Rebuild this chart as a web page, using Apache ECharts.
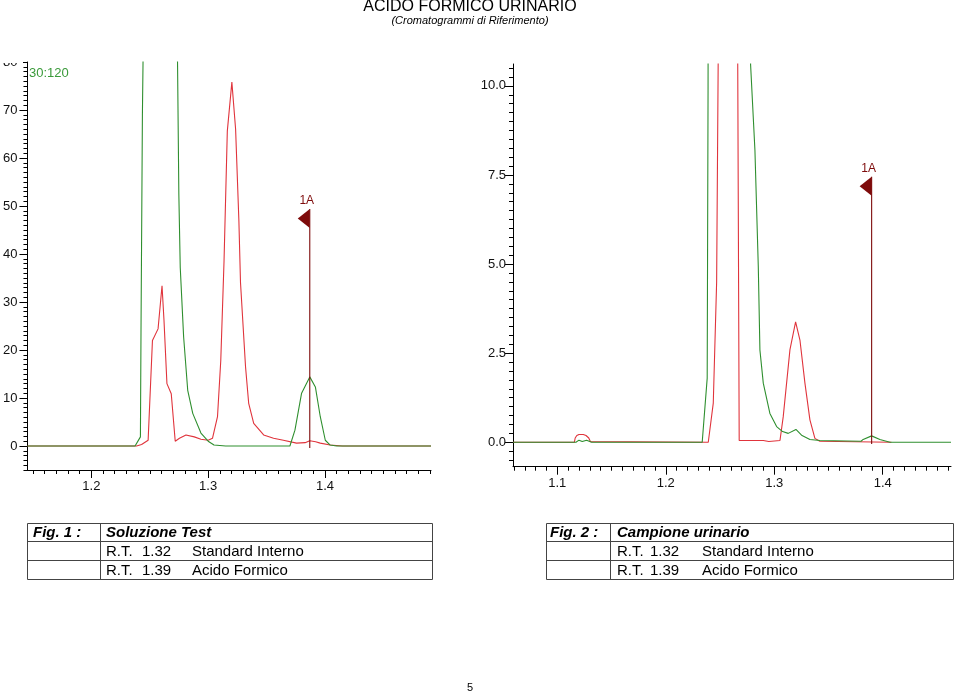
<!DOCTYPE html>
<html><head><meta charset="utf-8">
<script src="https://cdn.jsdelivr.net/npm/echarts@6/dist/echarts.min.js"></script>
<style>html,body{margin:0;padding:0;background:#fff}#c{width:960px;height:694px}</style>
</head><body><div id="c"></div>
<script>
// ---- data (retention time [min], signal) ----
const fig1Green = [[1.1453,0],[1.2374,0],[1.2420,1.9],[1.2425,24],[1.2437,69],[1.2452,100],[1.2500,220],[1.2580,260],[1.2660,220],[1.2720,110],[1.2738,79.4],[1.2749,52.4],[1.2761,37.2],[1.2790,22.7],[1.2825,11.6],[1.2868,6.8],[1.2938,2.7],[1.3000,1.0],[1.3050,0.2],[1.3150,0],[1.3700,0],[1.3743,3.3],[1.3800,11],[1.3870,14.4],[1.3918,12.3],[1.3960,6.1],[1.4003,1.2],[1.4045,0.2],[1.4100,0],[1.4908,0]];
const fig1Red = [[1.1453,0],[1.2387,0],[1.2430,0.3],[1.2486,1.2],[1.2523,22],[1.2571,24.4],[1.2605,33.4],[1.2622,26.1],[1.2647,13],[1.2684,10.9],[1.2718,1.0],[1.2754,1.6],[1.2810,2.3],[1.2881,1.9],[1.2938,1.4],[1.3000,1.2],[1.3037,1.6],[1.3080,6.1],[1.3108,17.8],[1.3136,38.6],[1.3164,65.6],[1.3203,75.8],[1.3235,66],[1.3263,47],[1.3277,34],[1.3320,16.5],[1.3347,8.9],[1.3390,4.7],[1.3475,2.3],[1.3560,1.6],[1.3644,1.2],[1.3757,0.6],[1.3830,0.7],[1.3870,1.1],[1.3920,0.9],[1.3960,0.6],[1.4045,0.2],[1.4150,0],[1.4908,0]];
const fig2Green = [[1.0592,0],[1.1172,0],[1.1200,0.06],[1.1230,0.02],[1.1270,0.06],[1.1317,0],[1.2336,0],[1.2382,1.8],[1.2390,10],[1.2400,40],[1.2500,80],[1.2650,80],[1.2770,40],[1.2782,10.6],[1.2822,8.2],[1.2853,4.93],[1.2868,2.59],[1.2899,1.66],[1.2960,0.81],[1.3022,0.44],[1.3077,0.3],[1.3129,0.25],[1.3200,0.36],[1.3252,0.2],[1.3329,0.08],[1.3421,0.05],[1.3800,0.03],[1.3820,0.08],[1.3898,0.18],[1.3974,0.08],[1.4067,0],[1.4630,0]];
const fig2Red = [[1.0592,0],[1.1157,0],[1.1165,0.12],[1.1180,0.19],[1.1200,0.22],[1.1240,0.22],[1.1265,0.19],[1.1290,0.12],[1.1305,0.02],[1.1320,0],[1.2392,0],[1.2438,1.1],[1.2469,4.5],[1.2484,11],[1.2500,40],[1.2600,60],[1.2655,40],[1.2663,11],[1.2677,0.05],[1.2900,0.05],[1.2950,0.02],[1.3053,0.05],[1.3083,0.72],[1.3145,2.6],[1.3197,3.38],[1.3237,2.87],[1.3283,1.66],[1.3329,0.63],[1.3375,0.11],[1.3420,0.03],[1.4080,0.0]];
const fig1Marker = [1.387, 49.4, -0.4];   // x, top, bottom
const fig2Marker = [1.3898, 7.45, -0.05];
const markerLabel = '1A';
const fig1XTicks = [1.2, 1.3, 1.4];
const fig1YTicks = [0, 10, 20, 30, 40, 50, 60, 70, 80];
const fig2XTicks = [1.1, 1.2, 1.3, 1.4];
const fig2YTicks = [0, 2.5, 5, 7.5, 10];
const titleText = 'ACIDO FORMICO URINARIO';
const subtitleText = '(Cromatogrammi di Riferimento)';
const scaleNote = '30:120';
const table1 = [['Fig. 1 :', 'Soluzione Test'], ['', 'R.T.', '1.32', 'Standard Interno'], ['', 'R.T.', '1.39', 'Acido Formico']];
const table2 = [['Fig. 2 :', 'Campione urinario'], ['', 'R.T.', '1.32', 'Standard Interno'], ['', 'R.T.', '1.39', 'Acido Formico']];
const pageNumber = '5';

// ---- helpers ----
function range(a, b, s) { const out = []; for (let i = 0; a + i * s <= b + 1e-9; i++) out.push(+(a + i * s).toFixed(4)); return out; }
const fig1XMinor = range(1.15, 1.49, 0.01);
const fig1YMinor = range(-5, 80, 1);
const fig2XMinor = range(1.06, 1.46, 0.01);
const fig2YMinor = range(-0.5, 10.5, 0.25);

const GREEN = '#2f8f2f', RED = '#e0343c', MARK = '#7e0b0b';
const ARIAL = "'Liberation Sans',Arial,sans-serif";

const grids = [
  { left: 25, top: 62, width: 406, height: 408 },
  { left: 513, top: 64, width: 438, height: 402.7 }
];
const xr = [[1.14528, 1.4908], [1.05916, 1.46297]];
const yr = [[-5, 80], [-0.685, 10.615]];
const xMaj = [fig1XTicks, fig2XTicks], xMin = [fig1XMinor, fig2XMinor];
const yMaj = [fig1YTicks, fig2YTicks], yMin = [fig1YMinor, fig2YMinor];

const xAxes = [], yAxes = [];
for (let g = 0; g < 2; g++) {
  xAxes.push({
    type: 'value', gridIndex: g, min: xr[g][0], max: xr[g][1], position: 'bottom',
    axisLine: { onZero: false, lineStyle: { color: '#000', width: 1 } },
    axisTick: { customValues: xMaj[g], length: 8, lineStyle: { color: '#000' } },
    axisLabel: { customValues: xMaj[g], formatter: v => v.toFixed(1), margin: 10, color: '#111', fontFamily: ARIAL, fontSize: 13 },
    splitLine: { show: false }
  });
  xAxes.push({
    type: 'value', gridIndex: g, min: xr[g][0], max: xr[g][1], position: 'bottom',
    axisLine: { show: false, onZero: false },
    axisTick: { customValues: xMin[g], length: 4, lineStyle: { color: '#000' } },
    axisLabel: { show: false }, splitLine: { show: false }
  });
  yAxes.push({
    type: 'value', gridIndex: g, min: yr[g][0], max: yr[g][1], position: 'left',
    axisLine: { onZero: false, lineStyle: { color: '#000', width: 1 } },
    axisTick: { customValues: yMaj[g], length: 8, lineStyle: { color: '#000' } },
    axisLabel: { customValues: yMaj[g], formatter: v => g === 0 ? String(v) : v.toFixed(1), margin: g === 0 ? 10 : 7, color: '#111', fontFamily: ARIAL, fontSize: 13 },
    splitLine: { show: false }
  });
  yAxes.push({
    type: 'value', gridIndex: g, min: yr[g][0], max: yr[g][1], position: 'left',
    axisLine: { show: false, onZero: false },
    axisTick: { customValues: yMin[g], length: 4, lineStyle: { color: '#000' } },
    axisLabel: { show: false }, splitLine: { show: false }
  });
}

function trace(data, g, color) {
  return { type: 'line', data, xAxisIndex: g * 2, yAxisIndex: g * 2, showSymbol: false, symbol: 'none',
    lineStyle: { color, width: 1.1 }, clip: true, silent: true, animation: false, z: 3 };
}
function marker(m, g) {
  return [
    { type: 'line', data: [[m[0], m[2]], [m[0], m[1]]], xAxisIndex: g * 2, yAxisIndex: g * 2, symbol: 'none',
      lineStyle: { color: MARK, width: 1.1 }, animation: false, z: 4, silent: true },
    { type: 'scatter', data: [[m[0], m[1]]], xAxisIndex: g * 2, yAxisIndex: g * 2,
      symbol: 'path://M12,0 L0,9.5 L12,19 Z', symbolSize: [12, 19], symbolOffset: [-6, 9.5],
      itemStyle: { color: MARK, opacity: 1 }, animation: false, z: 5, silent: true,
      label: { show: true, formatter: markerLabel, position: 'top', distance: 2, offset: [3, 0], color: MARK, fontFamily: ARIAL, fontSize: 12 } }
  ];
}

const series = [
  trace(fig1Red, 0, RED), trace(fig1Green, 0, GREEN),
  trace(fig2Red, 1, RED), trace(fig2Green, 1, GREEN),
  ...marker(fig1Marker, 0), ...marker(fig2Marker, 1)
];

// tables
function tableGraphics(rows, x0, x1, xc, xCols) {
  const ys = [523.5, 541.5, 560.5, 579.5];
  const els = [];
  const ls = { stroke: '#444', lineWidth: 1 };
  els.push({ type: 'rect', shape: { x: x0, y: ys[0], width: x1 - x0, height: ys[3] - ys[0] }, style: { fill: 'none', stroke: '#444', lineWidth: 1 } });
  els.push({ type: 'line', shape: { x1: x0, y1: ys[1], x2: x1, y2: ys[1] }, style: ls });
  els.push({ type: 'line', shape: { x1: x0, y1: ys[2], x2: x1, y2: ys[2] }, style: ls });
  els.push({ type: 'line', shape: { x1: xc, y1: ys[0], x2: xc, y2: ys[3] }, style: ls });
  rows.forEach((r, i) => {
    const yc = (ys[i] + ys[i + 1]) / 2 + 0.5;
    if (i === 0) {
      els.push({ type: 'text', style: { text: r[0], x: xCols[0], y: yc, font: 'italic bold 15px ' + ARIAL, fill: '#000', textVerticalAlign: 'middle' } });
      els.push({ type: 'text', style: { text: r[1], x: xCols[1], y: yc, font: 'italic bold 15px ' + ARIAL, fill: '#000', textVerticalAlign: 'middle' } });
    } else {
      els.push({ type: 'text', style: { text: r[1], x: xCols[1], y: yc, font: '15px ' + ARIAL, fill: '#000', textVerticalAlign: 'middle' } });
      els.push({ type: 'text', style: { text: r[2], x: xCols[2], y: yc, font: '15px ' + ARIAL, fill: '#000', textVerticalAlign: 'middle' } });
      els.push({ type: 'text', style: { text: r[3], x: xCols[3], y: yc, font: '15px ' + ARIAL, fill: '#000', textVerticalAlign: 'middle' } });
    }
  });
  return els;
}

const graphic = [
  { type: 'rect', z: 100, shape: { x: 0, y: 40, width: 23, height: 23 }, style: { fill: '#fff' } },
  { type: 'text', z: 100, style: { text: scaleNote, x: 29, y: 73, font: '13px ' + ARIAL, fill: '#3a9a3a', textVerticalAlign: 'middle' } },
  { type: 'text', z: 100, style: { text: titleText, x: 470, y: 7, font: '16px ' + ARIAL, fill: '#000', textAlign: 'center', textVerticalAlign: 'middle' } },
  { type: 'text', z: 100, style: { text: subtitleText, x: 470, y: 21, font: 'italic 11px ' + ARIAL, fill: '#000', textAlign: 'center', textVerticalAlign: 'middle' } },
  { type: 'text', z: 100, style: { text: pageNumber, x: 470, y: 688, font: '11px ' + ARIAL, fill: '#000', textAlign: 'center', textVerticalAlign: 'middle' } },
  ...tableGraphics(table1, 27.5, 432.5, 100.5, [33, 106, 142, 192]),
  ...tableGraphics(table2, 546.5, 953.5, 610.5, [550, 617, 650, 702])
];

const chart = echarts.init(document.getElementById('c'), null, { renderer: 'canvas' });
chart.setOption({
  backgroundColor: '#fff', animation: false,
  grid: grids, xAxis: xAxes, yAxis: yAxes, series, graphic
});
</script></body></html>
